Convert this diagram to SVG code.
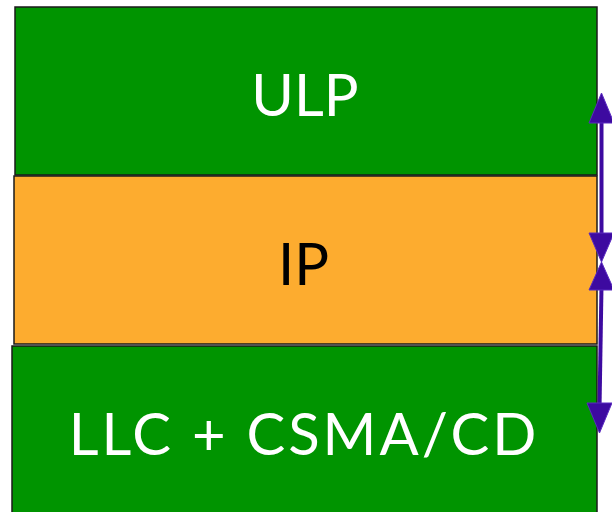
<svg xmlns="http://www.w3.org/2000/svg" width="612" height="512" viewBox="0 0 612 512">
<style>
.lbl{font-family:Lato,"Open Sans","Liberation Sans",sans-serif;font-size:58px;fill:#ffffff;text-anchor:middle}
.dark{fill:#000000}
.g{fill:#009400;stroke:#1a1a1a;stroke-width:1.5}
.o{fill:#fdac2f;stroke:#1a1a1a;stroke-width:1.5}
.ln{stroke:#3d0aa0;stroke-width:4;fill:none}
.ah{fill:#3d0aa0;stroke:#5a2ac0;stroke-width:1}
</style>
<rect width="612" height="512" fill="#ffffff"/>
<g id="ulp">
<rect class="g" x="15" y="7" width="582" height="168"/>
<text class="lbl" x="305" y="116">ULP</text>
</g>
<g id="ip">
<rect class="o" x="14" y="176" width="583" height="168"/>
<text class="lbl dark" x="303.5" y="285">IP</text>
</g>
<g id="llc">
<rect class="g" x="12" y="346" width="585" height="170"/>
<text class="lbl" x="304" y="455" letter-spacing="3">LLC + CSMA/CD</text>
</g>
<g id="connectors">
<line class="ln" x1="601.5" y1="118" x2="601.5" y2="238"/>
<polygon class="ah" points="601.5,93 589,123 614,123"/>
<polygon class="ah" points="601.5,262 589,233 614,233"/>
<line class="ln" x1="601.5" y1="286" x2="599.5" y2="408"/>
<polygon class="ah" points="601.5,262 589,290 614,290"/>
<polygon class="ah" points="599.5,433 587,403 612,403"/>
</g>
</svg>
